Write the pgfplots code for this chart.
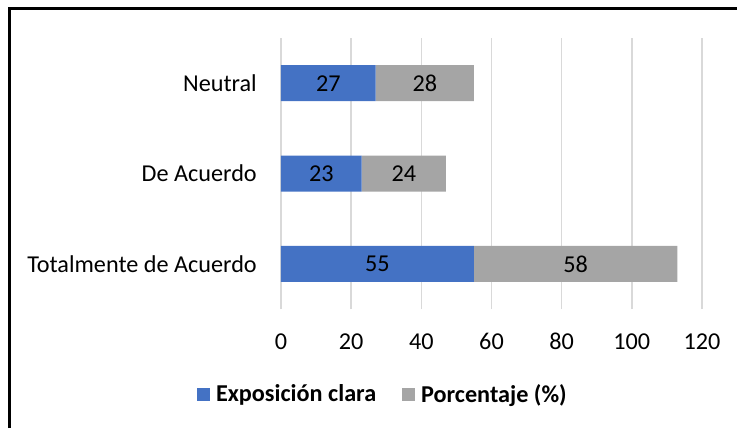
\documentclass[border=0pt]{standalone}
\usepackage{fontspec}
\setmainfont{Carlito}
\usepackage{pgfplots}
\pgfplotsset{compat=1.18}
\definecolor{serA}{HTML}{4472C4}
\definecolor{serB}{HTML}{A5A5A5}
\definecolor{gridc}{HTML}{D9D9D9}

\begin{document}
\fontsize{24.3}{29}\selectfont
\begin{tikzpicture}[x=1bp,y=1bp]
\begin{axis}[
    at={(0,0)}, anchor=south west,
    scale only axis,
    width=421bp, height=271bp,
    xbar stacked, bar width=36bp,
    xmin=0, xmax=120, ymin=-0.5, ymax=2.5,
    xtick={0,20,...,120}, ytick={0,1,2},
    yticklabels={Totalmente de Acuerdo, De Acuerdo, Neutral},
    axis line style={draw=none},
    major tick length=0pt,
    xmajorgrids, grid style={gridc, line width=1.5bp},
    /pgf/number format/assume math mode=true,
    xticklabel style={anchor=base, yshift=-40bp},
    yticklabel style={xshift=-16bp},
    nodes near coords,
    every node near coord/.append style={anchor=center, black},
    legend style={at={(0.242,-0.317)}, anchor=center, draw=none, fill=none,
        legend columns=2, font=\bfseries,
        /tikz/every odd column/.append style={column sep=4bp},
        /tikz/every even column/.append style={column sep=24bp}},
    legend image code/.code={\fill[#1] (0bp,-6.5bp) rectangle (13bp,6.5bp);},
]
\addplot[fill=serA, draw=none] coordinates {(55,0) (23,1) (27,2)};
\addplot[fill=serB, draw=none] coordinates {(58,0) (24,1) (28,2)};
\legend{Exposición clara, Porcentaje (\%)}
\end{axis}
\draw[line width=3bp, black] (-271,-119) -- (-271,301) -- (456,301);
\pgfresetboundingbox
\useasboundingbox (-281,-119) rectangle (456,309);
\end{tikzpicture}
\end{document}
